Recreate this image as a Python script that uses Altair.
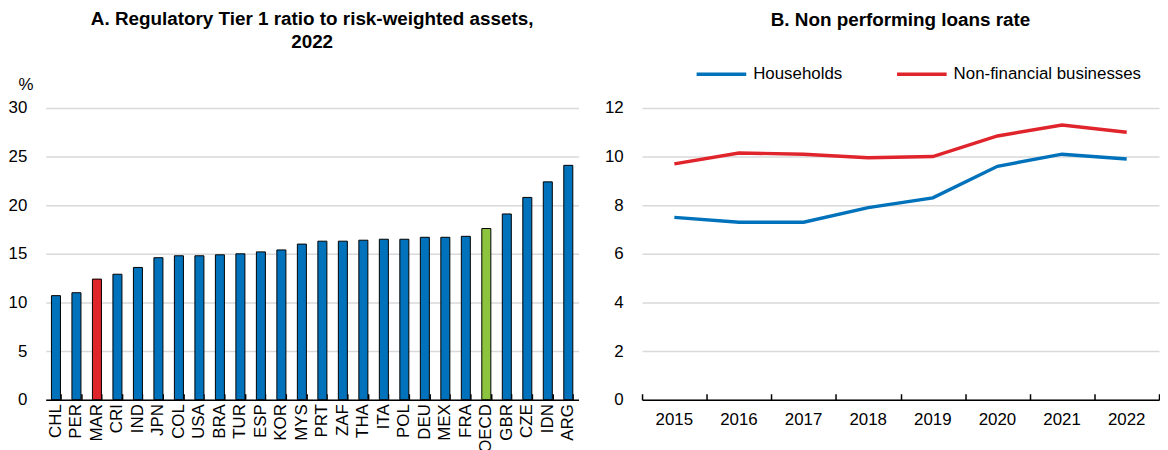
import altair as alt
import pandas as pd

# Panel A data
countries = ["CHL", "PER", "MAR", "CRI", "IND", "JPN", "COL", "USA", "BRA", "TUR", "ESP", "KOR", "MYS",
             "PRT", "ZAF", "THA", "ITA", "POL", "DEU", "MEX", "FRA", "OECD", "GBR", "CZE", "IDN", "ARG"]
tier1 = [10.7, 11.0, 12.4, 12.9, 13.6, 14.6, 14.8, 14.8, 14.9, 15.0, 15.2, 15.4, 16.0,
         16.3, 16.3, 16.4, 16.5, 16.5, 16.7, 16.7, 16.8, 17.6, 19.1, 20.8, 22.4, 24.1]
highlight = {"MAR": "Morocco", "OECD": "OECD"}

# Panel B data
years = ["2015", "2016", "2017", "2018", "2019", "2020", "2021", "2022"]
households = [7.5, 7.3, 7.3, 7.9, 8.3, 9.6, 10.1, 9.9]
nonfin = [9.7, 10.15, 10.1, 9.95, 10.0, 10.85, 11.3, 11.0]
series_names = ["Households", "Non-financial businesses"]

FONT = "Liberation Sans"
BLUE = "#0072bb"
RED = "#e0242b"
GREEN = "#8cc43f"
GRID = "#d9d9d9"
FS = 17
TFS = 19

df_a = pd.DataFrame({"country": countries, "value": tier1,
                     "group": [highlight.get(c, "Other") for c in countries]})

df_b = pd.DataFrame({
    "year": years * 2,
    "value": households + nonfin,
    "series": [series_names[0]] * len(years) + [series_names[1]] * len(years),
})

WA, HA = 537, 294
WB, HB = 521, 294

xa_scale = alt.Scale(paddingInner=0.56, paddingOuter=0.28)

ya = alt.Y("value:Q", scale=alt.Scale(domain=[0, 30]),
           axis=alt.Axis(title="%", titleAngle=0, titleX=-28, titleY=-15, titleAlign="left",
                         titleBaseline="bottom", titleFontSize=FS, titleFontWeight="normal",
                         titleFont=FONT, titleColor="black",
                         values=[0, 5, 10, 15, 20, 25, 30], domain=False, ticks=False,
                         labelFontSize=FS, labelFont=FONT, labelColor="black", labelPadding=19,
                         gridColor=GRID, gridWidth=1.5))

bars = alt.Chart(df_a).mark_bar(stroke="black", strokeWidth=1).encode(
    x=alt.X("country:N", sort=countries, scale=xa_scale,
            axis=alt.Axis(title=None, labelAngle=-90, labelFontSize=FS, labelColor="black",
                          labelFont=FONT, ticks=False, domainColor="black", domainWidth=1.5,
                          labelPadding=4, labelBaseline="middle", labelAlign="right")),
    y=ya,
    color=alt.Color("group:N", scale=alt.Scale(domain=["Other", "Morocco", "OECD"],
                                               range=[BLUE, RED, GREEN]), legend=None),
)

ticks_a = alt.Chart(df_a).mark_bar(opacity=0).encode(
    x=alt.X("country:N", sort=countries, scale=xa_scale,
            axis=alt.Axis(title=None, orient="top", offset=-HA, labels=False, domain=False,
                          ticks=True, tickBand="extent", tickSize=6, tickWidth=1.5,
                          tickColor="black")),
    y=ya,
)

chart_a = alt.layer(bars, ticks_a).resolve_axis(x="independent").properties(
    width=WA, height=HA,
    title=alt.Title(["A. Regulatory Tier 1 ratio to risk-weighted assets,", "2022"],
                    fontSize=TFS, font=FONT, fontWeight="bold", color="black",
                    anchor="middle", lineHeight=24, offset=23),
)

xb_scale = alt.Scale(paddingInner=0, paddingOuter=0)

yb = alt.Y("value:Q", scale=alt.Scale(domain=[0, 12]),
           axis=alt.Axis(title=None, values=[0, 2, 4, 6, 8, 10, 12], domain=False, ticks=False,
                         labelFontSize=FS, labelFont=FONT, labelColor="black", labelPadding=19,
                         gridColor=GRID, gridWidth=1.5))

lines = alt.Chart(df_b).mark_line(strokeWidth=3.5).encode(
    x=alt.X("year:N", sort=years, scale=xb_scale,
            axis=alt.Axis(title=None, labelAngle=0, labelFontSize=FS, labelColor="black",
                          labelFont=FONT, ticks=False, domainColor="black", domainWidth=1.5,
                          labelPadding=12)),
    y=yb,
    color=alt.Color("series:N", scale=alt.Scale(domain=series_names, range=[BLUE, RED]),
                    legend=alt.Legend(title=None, orient="none", direction="horizontal",
                                      legendX=53, legendY=-61, symbolType="stroke",
                                      symbolStrokeWidth=3.5, symbolSize=2500,
                                      labelFontSize=FS, labelFont=FONT, labelColor="black",
                                      labelLimit=400,
                                      columnPadding=48, labelOffset=5, padding=0)),
)

ticks_b = alt.Chart(df_b).mark_line(opacity=0).encode(
    x=alt.X("year:N", sort=years, scale=xb_scale,
            axis=alt.Axis(title=None, orient="top", offset=-HB, labels=False, domain=False,
                          ticks=True, tickBand="extent", tickSize=6, tickWidth=1.5,
                          tickColor="black")),
    y=yb,
    detail="series:N",
)

chart_b = alt.layer(lines, ticks_b).resolve_axis(x="independent").properties(
    width=WB, height=HB,
    title=alt.Title("B. Non performing loans rate",
                    fontSize=TFS, font=FONT, fontWeight="bold", color="black",
                    anchor="middle", lineHeight=24, offset=18),
)

chart = alt.hconcat(chart_a, chart_b, spacing=26).resolve_scale(
    color="independent").resolve_legend(color="independent").configure(
    font=FONT, padding=0
).configure_view(strokeWidth=0)

chart.save("out.html", embed_options={"renderer": "svg", "actions": False})
